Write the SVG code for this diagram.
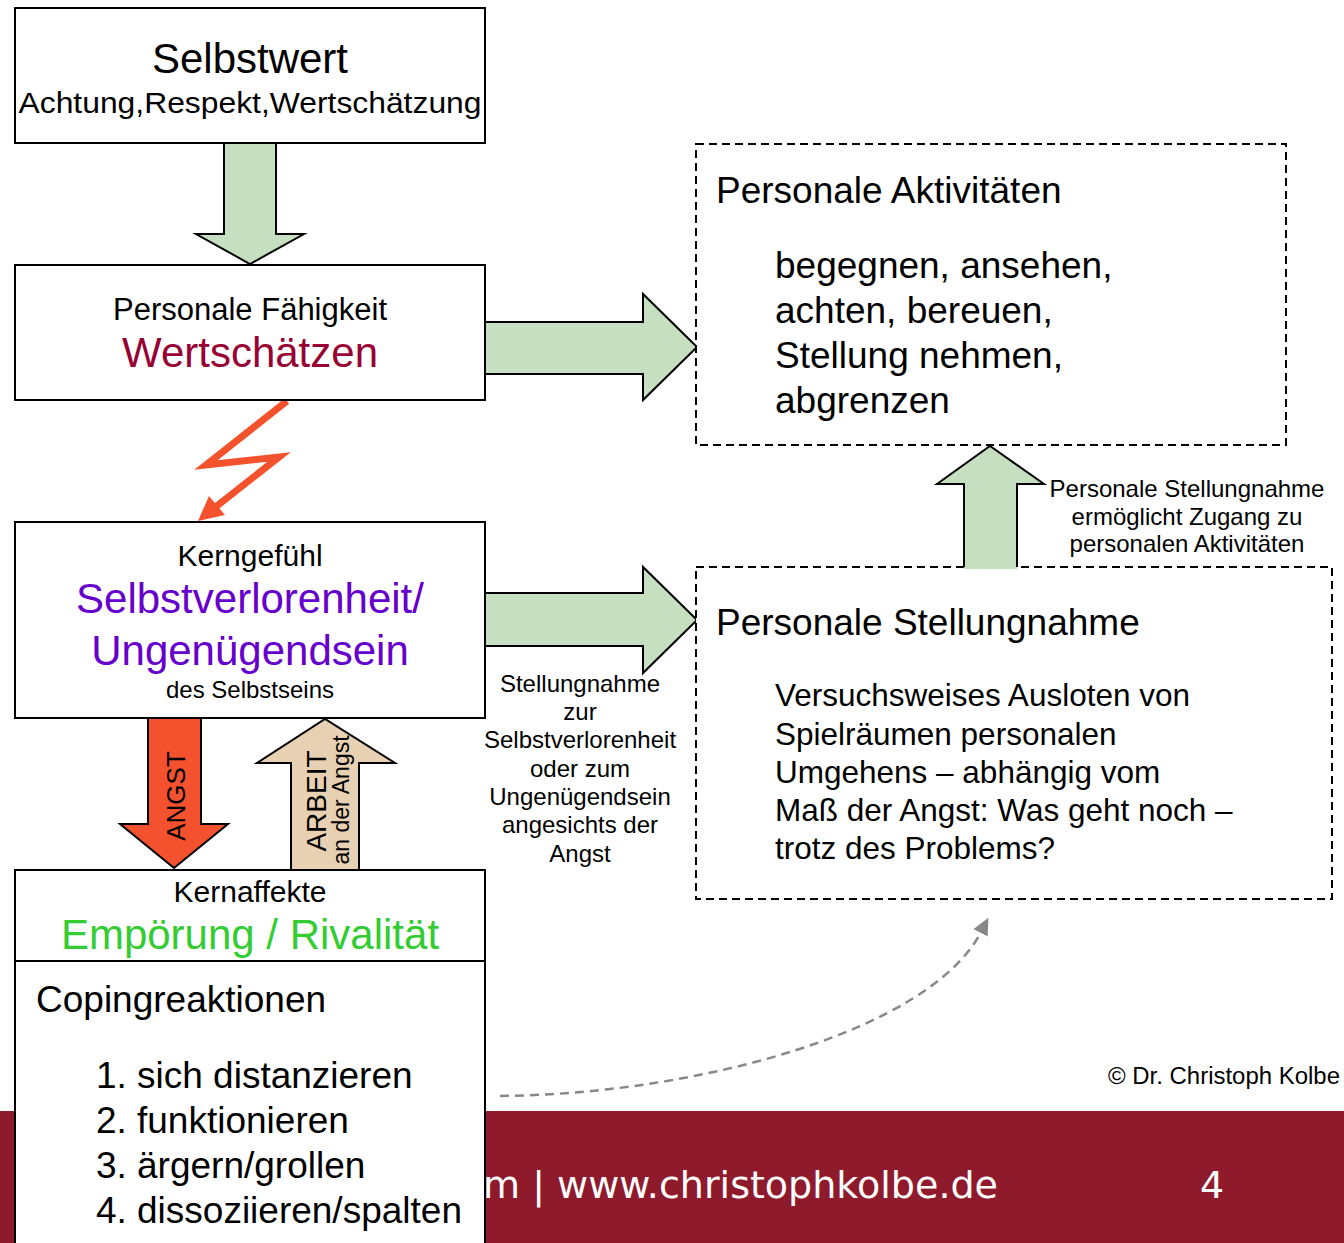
<svg xmlns="http://www.w3.org/2000/svg" width="1344" height="1243" viewBox="0 0 1344 1243">
<defs>
<style>
text{font-family:"Liberation Sans",Arial,Helvetica,sans-serif;fill:#000}
.box{fill:#fff;stroke:#000;stroke-width:2}
.dash{fill:#fff;stroke:#000;stroke-width:2;stroke-dasharray:8,5}
.green{fill:#c6dfc0;stroke:#000;stroke-width:2;stroke-linejoin:miter}
.red{fill:#f4512e;stroke:#000;stroke-width:2}
.tan{fill:#e8d1b2;stroke:#000;stroke-width:2}
.c{text-anchor:middle}
.foot{font-family:"DejaVu Sans",Verdana,sans-serif;fill:#fff}
</style>
<marker id="grayHead" viewBox="0 0 17 16" refX="1" refY="8" markerWidth="17" markerHeight="16" markerUnits="userSpaceOnUse" orient="auto">
<path d="M0,0 L17,8 L0,16 z" fill="#888"/>
</marker>
</defs>
<rect width="1344" height="1243" fill="#fff"/>
<g id="footer">
<rect x="0" y="1111" width="1344" height="132" fill="#8f1a2c"/>
<text class="foot" x="483" y="1198" font-size="38" textLength="515" lengthAdjust="spacingAndGlyphs">m | www.christophkolbe.de</text>
<text class="foot" x="1200" y="1198" font-size="38">4</text>
</g>
<g id="copyright">
<text x="1108" y="1084" font-size="23" textLength="232" lengthAdjust="spacingAndGlyphs">© Dr. Christoph Kolbe</text>
</g>
<g id="connectors">
<polygon class="green" points="224,143 276,143 276,234 304,234 250,264 196,234 224,234"/>
<polygon class="green" points="485,322 643,322 643,294 697,347 643,400 643,374 485,374"/>
<polygon class="green" points="485,593 643,593 643,567 697,620 643,673 643,646 485,646"/>
<g id="lightning">
<polyline points="287,401 206,465 279,457 213,509" fill="none" stroke="#f4522d" stroke-width="7" stroke-linejoin="miter"/>
<polygon points="198,521 209,496 225,515" fill="#f4522d"/>
</g>
<g id="angst">
<polygon class="red" points="148,718 201,718 201,824 228,824 174,868 120,824 148,824"/>
<text class="c" transform="translate(185,796) rotate(-90)" font-size="26">ANGST</text>
</g>
<g id="arbeit">
<polygon class="tan" points="291,870 291,763 257,763 325,719 395,763 359,763 359,870"/>
<text class="c" transform="translate(326,801) rotate(-90)" font-size="28">ARBEIT</text>
<text class="c" transform="translate(349,800) rotate(-90)" font-size="23">an der Angst</text>
</g>
<path d="M500,1096 C700,1094 930,1030 981,932" fill="none" stroke="#888" stroke-width="2.5" stroke-dasharray="9,6" marker-end="url(#grayHead)"/>
<g id="label-stellung" font-size="24">
<text class="c" x="580" y="692">Stellungnahme</text>
<text class="c" x="580" y="720">zur</text>
<text class="c" x="580" y="748">Selbstverlorenheit</text>
<text class="c" x="580" y="777">oder zum</text>
<text class="c" x="580" y="805">Ungenügendsein</text>
<text class="c" x="580" y="833">angesichts der</text>
<text class="c" x="580" y="862">Angst</text>
</g>
<g id="label-zugang" font-size="24">
<text class="c" x="1187" y="497">Personale Stellungnahme</text>
<text class="c" x="1187" y="525">ermöglicht Zugang zu</text>
<text class="c" x="1187" y="552">personalen Aktivitäten</text>
</g>
</g>
<g id="selbstwert">
<rect class="box" x="15" y="8" width="470" height="135"/>
<text class="c" x="250" y="73" font-size="42">Selbstwert</text>
<text class="c" x="250" y="113" font-size="29" textLength="463" lengthAdjust="spacingAndGlyphs">Achtung,Respekt,Wertschätzung</text>
</g>
<g id="faehigkeit">
<rect class="box" x="15" y="265" width="470" height="135"/>
<text class="c" x="250" y="320" font-size="31">Personale Fähigkeit</text>
<text class="c" x="250" y="367" font-size="42" style="fill:#990033">Wertschätzen</text>
</g>
<g id="kerngefuehl">
<rect class="box" x="15" y="522" width="470" height="196"/>
<text class="c" x="250" y="566" font-size="30">Kerngefühl</text>
<text class="c" x="250" y="613" font-size="42" style="fill:#6600cc">Selbstverlorenheit/</text>
<text class="c" x="250" y="665" font-size="42" style="fill:#6600cc">Ungenügendsein</text>
<text class="c" x="250" y="698" font-size="24">des Selbstseins</text>
</g>
<g id="kernaffekte">
<rect class="box" x="15" y="870" width="470" height="400"/>
<line x1="15" y1="961" x2="485" y2="961" stroke="#000" stroke-width="2"/>
<text class="c" x="250" y="902" font-size="30">Kernaffekte</text>
<text class="c" x="250" y="949" font-size="42" style="fill:#33cc33">Empörung / Rivalität</text>
</g>
<g id="coping" font-size="37">
<text x="36" y="1012">Copingreaktionen</text>
<text x="96" y="1088">1.</text><text x="137" y="1088">sich distanzieren</text>
<text x="96" y="1133">2.</text><text x="137" y="1133">funktionieren</text>
<text x="96" y="1178">3.</text><text x="137" y="1178">ärgern/grollen</text>
<text x="96" y="1223">4.</text><text x="137" y="1223">dissoziieren/spalten</text>
</g>
<g id="aktivitaeten">
<rect class="dash" x="696" y="144" width="590" height="301"/>
<text x="716" y="203" font-size="37">Personale Aktivitäten</text>
<g font-size="37">
<text x="775" y="278">begegnen, ansehen,</text>
<text x="775" y="323">achten, bereuen,</text>
<text x="775" y="368">Stellung nehmen,</text>
<text x="775" y="413">abgrenzen</text>
</g>
</g>
<g id="stellungnahme">
<rect class="dash" x="696" y="567" width="636" height="332"/>
<text x="716" y="635" font-size="37">Personale Stellungnahme</text>
<g font-size="31.5">
<text x="775" y="706">Versuchsweises Ausloten von</text>
<text x="775" y="745">Spielräumen personalen</text>
<text x="775" y="783">Umgehens – abhängig vom</text>
<text x="775" y="821">Maß der Angst: Was geht noch –</text>
<text x="775" y="859">trotz des Problems?</text>
</g>
</g>
<g id="up-arrow">
<polygon class="green" points="964,569 964,484 937,484 990,446 1044,484 1017,484 1017,569" style="stroke:none"/>
<polyline points="964,567 964,484 937,484 990,446 1044,484 1017,484 1017,567" fill="none" stroke="#000" stroke-width="2"/>
</g>
</svg>
